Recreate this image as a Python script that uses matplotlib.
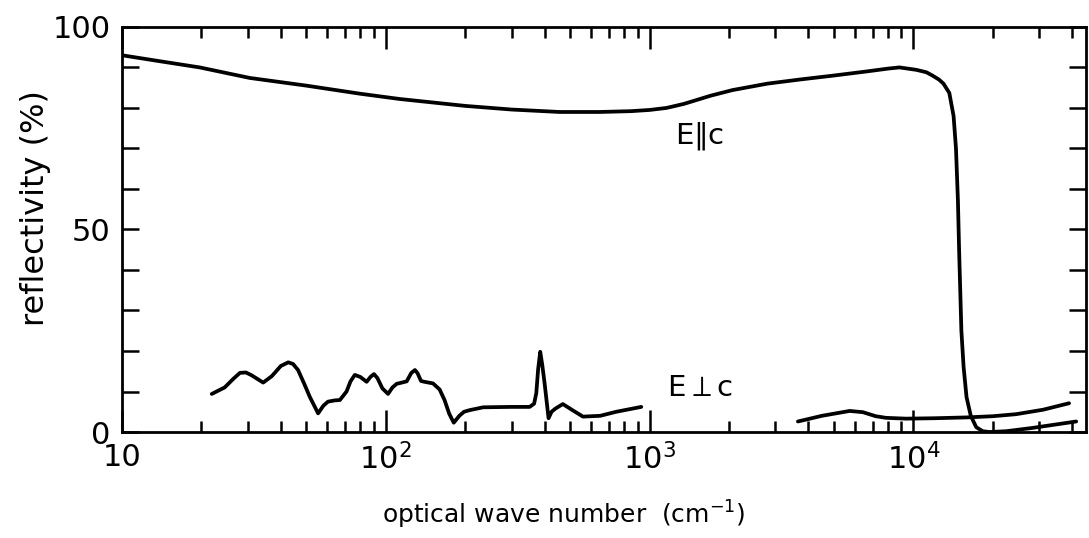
import matplotlib.pyplot as plt
import numpy as np
from matplotlib.ticker import LogLocator, FixedLocator, MultipleLocator, NullFormatter

# E parallel c
par_wn = [10, 14, 19.7, 30.5, 50, 80, 113, 200, 300, 455, 647, 850, 1000, 1160, 1350,
          1700, 2060, 2800, 3700, 5000, 6640, 8000, 8850, 10260, 11200, 11800, 12500,
          13000, 13680, 14200, 14500, 14750, 14900, 15050, 15200, 15500, 15900, 16500,
          17300, 18300, 19400, 22500, 28200, 41400]
par_R = [93, 91.5, 90, 87.4, 85.5, 83.5, 82.2, 80.5, 79.6, 79, 79, 79.2, 79.5, 80, 81,
         83, 84.4, 86, 87, 88, 89, 89.7, 90, 89.4, 88.8, 88, 87,
         86, 83.7, 78, 70, 57, 45, 35, 25, 16, 8.6, 4,
         1.2, 0.2, 0, 0.2, 1.0, 2.6]

# E perpendicular c, far infrared part
perp1_wn = [21.9, 24.5, 26.5, 28, 29.5, 31, 34.3, 37, 40, 42.7, 44.5, 46.5, 49, 51.5,
            55.4, 58, 60.4, 64, 67, 71, 73.5, 76.3, 80, 84.6, 87.5, 90.2, 93,
            97, 102, 106, 110, 115, 120, 125, 129, 132, 136, 140, 151, 160,
            167, 174, 181, 190, 198, 208, 234, 300, 351, 365, 372, 378, 385, 392,
            400, 414, 425, 440, 469, 510, 559, 650, 748, 930]
perp1_R = [9.4, 11.0, 13.2, 14.6, 14.7, 14.0, 12.2, 13.8, 16.3, 17.2, 16.8, 15.3, 12, 8.7,
           4.6, 6.5, 7.5, 7.8, 7.9, 10, 12.5, 14.1, 13.6, 12.4, 13.6, 14.3, 13.3,
           10.8, 9.4, 11.0, 11.9, 12.2, 12.5, 14.6, 15.3, 14.5, 12.6, 12.4, 12.0, 10.5,
           7.9, 4.5, 2.3, 4.0, 5.0, 5.4, 6.1, 6.2, 6.2, 7.0, 9.6, 15.5, 19.8, 16.5,
           12.0, 3.4, 5.0, 5.8, 6.9, 5.4, 3.8, 4.0, 5.0, 6.2]

# E perpendicular c, near infrared / visible part
perp2_wn = [3650, 4500, 5730, 6430, 7200, 7870, 9370, 12000, 15850, 20000, 24500, 31000, 38900]
perp2_R = [2.6, 4.0, 5.2, 4.9, 3.9, 3.5, 3.3, 3.4, 3.6, 3.9, 4.4, 5.5, 7.1]

fig = plt.figure(figsize=(10.89, 5.38), dpi=100)
ax = fig.add_axes([0.112, 0.197, 0.885, 0.753])

lw = 2.7
for wn, R in [(par_wn, par_R), (perp1_wn, perp1_R), (perp2_wn, perp2_R)]:
    ax.plot(wn, R, color='black', lw=lw, solid_joinstyle='round', solid_capstyle='round')

ax.set_xscale('log')
ax.set_xlim(10, 4.5e4)
ax.set_ylim(0, 100)

ax.xaxis.set_major_locator(FixedLocator([10, 100, 1000, 10000]))
ax.xaxis.set_minor_locator(LogLocator(base=10, subs=np.arange(2, 10), numticks=20))
ax.xaxis.set_minor_formatter(NullFormatter())
ax.set_xticklabels(['10', r'10$^2$', r'10$^3$', r'10$^4$'])
ax.set_yticks([0, 50, 100])
ax.yaxis.set_minor_locator(MultipleLocator(10))

ax.tick_params(which='both', direction='in', top=True, right=True, width=1.8,
               labelsize=22, pad=8)
ax.tick_params(which='major', axis='x', length=16)
ax.tick_params(which='minor', axis='x', length=8)
ax.tick_params(which='both', axis='y', length=12)
for s in ax.spines.values():
    s.set_linewidth(2)

ax.set_xlabel('optical wave number  (cm$^{-1}$)', fontsize=18, va='center')
ax.xaxis.set_label_coords(0.458, -0.205)
ax.set_ylabel('reflectivity (%)', fontsize=23, va='center')
ax.yaxis.set_label_coords(-0.09, 0.553)

ax.text(1550, 73, r'E$\Vert$c', fontsize=21, ha='center', va='center')
ax.text(1550, 10.8, r'E$\perp$c', fontsize=21, ha='center', va='center')

fig.savefig('out.png', dpi=100)
